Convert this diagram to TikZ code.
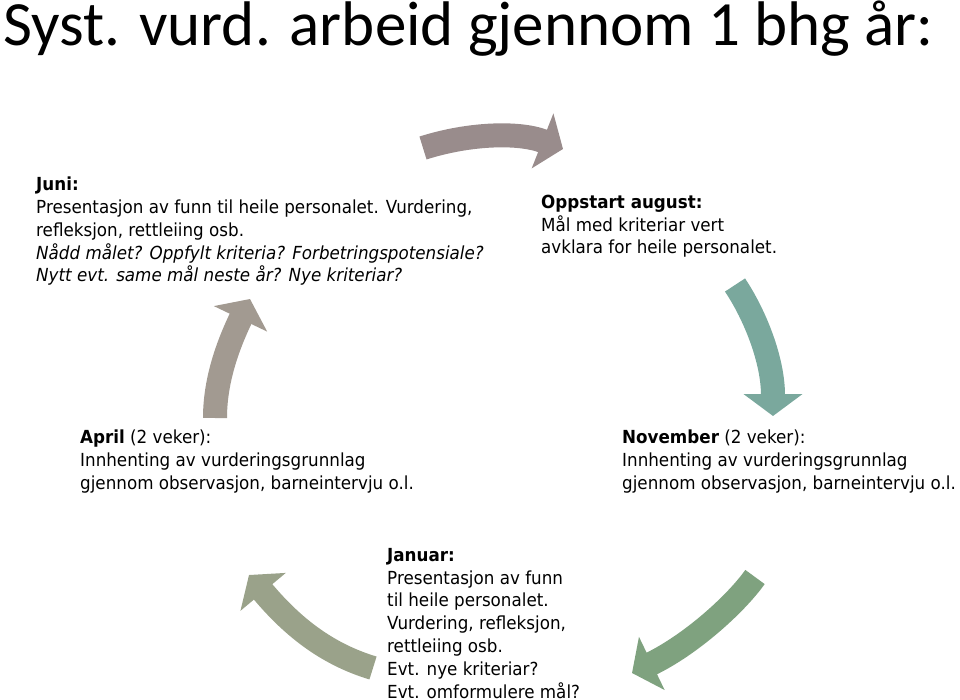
\documentclass[tikz,border=0pt]{standalone}
\usepackage{fontspec}
\usetikzlibrary{arrows.meta}
\newfontfamily\titlefont{Carlito}
\newfontfamily\bodyfont[FakeStretch=0.93]{DejaVu Sans}
\definecolor{augcol}{HTML}{998C8C}
\definecolor{novcol}{HTML}{7AA89D}
\definecolor{jancol}{HTML}{7FA27F}
\definecolor{aprcol}{HTML}{9AA28A}
\definecolor{juncol}{HTML}{A29A91}

\begin{document}
\begin{tikzpicture}
  [x=1pt,y=-1pt,
   every node/.style={inner sep=0pt,anchor=base west,align=left,
     font=\bodyfont\fontsize{18}{22.8}\selectfont},
   cyclearrow/.style={line width=24pt,-{Triangle[length=22pt,width=58pt]}}]
  \useasboundingbox (0,0) rectangle (960,700);

  \node (title) [font=\titlefont\fontsize{63}{70}\selectfont] at (3,46)
    {Syst. vurd. arbeid gjennom 1 bhg år:};

  % nodes sit on the baseline of their last line
  \node (jun) at (36,282) {\textbf{Juni:}\\
    Presentasjon av funn til heile personalet. Vurdering,\\
    refleksjon, rettleiing osb.\\
    \textit{Nådd målet? Oppfylt kriteria? Forbetringspotensiale?}\\
    \textit{Nytt evt. same mål neste år? Nye kriteriar?}};
  \node (aug) at (541,254) {\textbf{Oppstart august:}\\
    Mål med kriteriar vert\\
    avklara for heile personalet.};
  \node (apr) at (80,489) {\textbf{April} (2 veker):\\
    Innhenting av vurderingsgrunnlag\\
    gjennom observasjon, barneintervju o.l.};
  \node (nov) at (622,489) {\textbf{November} (2 veker):\\
    Innhenting av vurderingsgrunnlag\\
    gjennom observasjon, barneintervju o.l.};
  \node (jan) at (387,698) {\textbf{Januar:}\\
    Presentasjon av funn\\
    til heile personalet.\\
    Vurdering, refleksjon,\\
    rettleiing osb.\\
    Evt. nye kriteriar?\\
    Evt. omformulere mål?};

  % arrows round the year
  \coordinate (a0) at (423,148);  \coordinate (a1) at (563,149);
  \coordinate (n0) at (735,285);  \coordinate (n1) at (773,416);
  \coordinate (j0) at (755,577);  \coordinate (j1) at (632,673);
  \coordinate (p0) at (373,668);  \coordinate (p1) at (249,575);
  \coordinate (u0) at (215,418);  \coordinate (u1) at (250,299);

  \draw [cyclearrow,augcol] (a0) .. controls (470,133) and (520,132) .. (a1);
  \draw [cyclearrow,novcol] (n0) .. controls (755,315) and (773,360) .. (n1);
  \draw [cyclearrow,jancol] (j0) .. controls (735,605) and (690,645) .. (j1);
  \draw [cyclearrow,aprcol] (p0) .. controls (330,655) and (295,630) .. (p1);
  \draw [cyclearrow,juncol] (u0) .. controls (215,380) and (228,345) .. (u1);
\end{tikzpicture}
\end{document}
